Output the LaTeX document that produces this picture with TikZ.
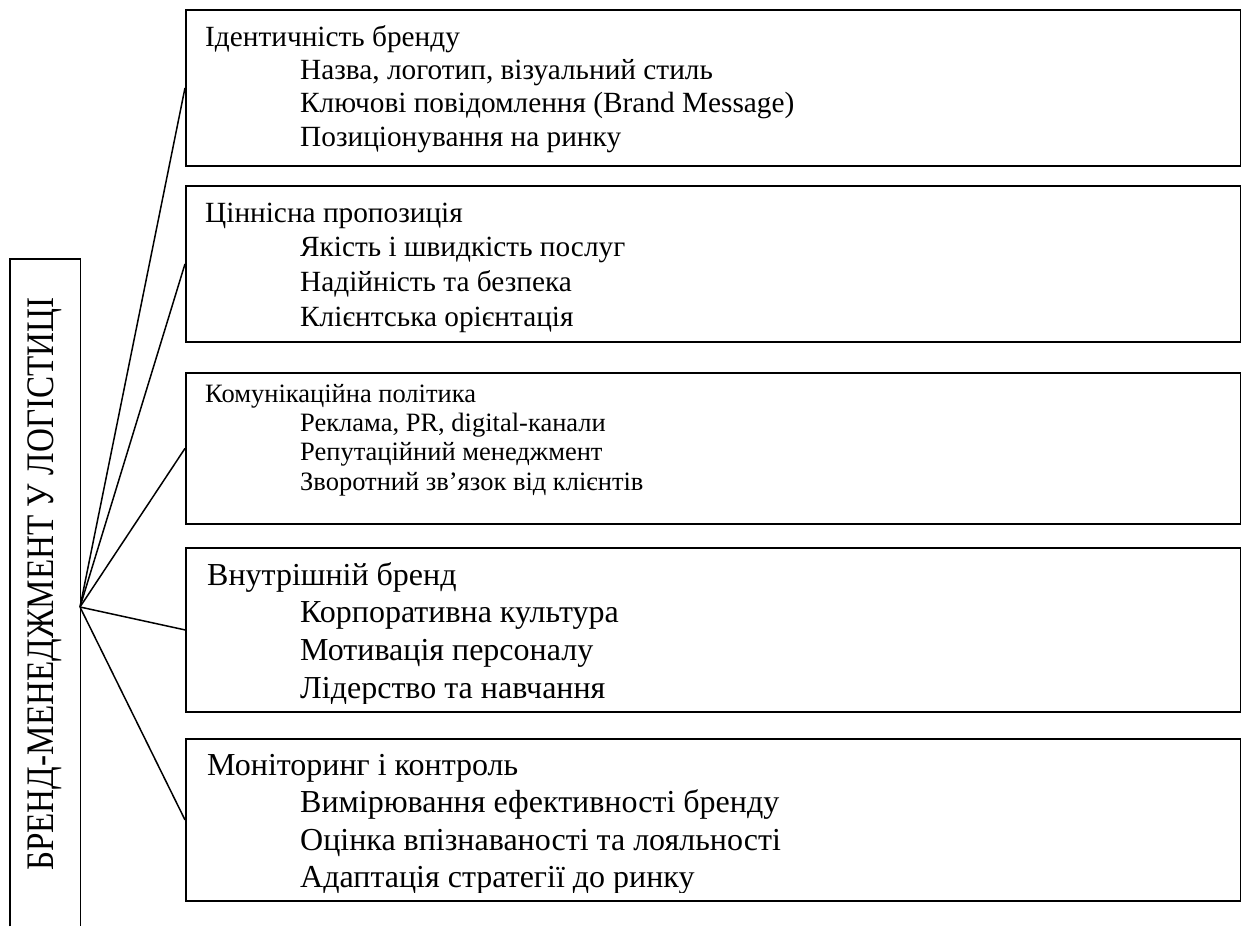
\documentclass[tikz,border=0pt]{standalone}
\usepackage{fontspec}
\setmainfont{Liberation Serif}
\newfontfamily\condfont[FakeStretch=0.85]{Liberation Serif}
\begin{document}
\begin{tikzpicture}[x=1pt,y=-1pt,
  box/.style={draw, line width=1.8pt, minimum width=1055pt, anchor=north west, inner sep=0pt},
  link/.style={line width=1.5pt},
  fa/.style={anchor=base west, inner sep=0pt, font=\fontsize{29.3}{33}\selectfont},
  fb/.style={anchor=base west, inner sep=0pt, font=\fontsize{26.5}{29}\selectfont},
  fc/.style={anchor=base west, inner sep=0pt, font=\fontsize{32}{37}\selectfont}]
\useasboundingbox (0,0) rectangle (1241,926);
% main vertical box (open at bottom)
\node[minimum width=70pt, minimum height=667pt, anchor=north west, inner sep=0pt] (main) at (10,259) {};
\draw[line width=1.8pt] (main.south west) |- (main.north east) -- (main.south east);
\node[rotate=90, inner sep=0pt, font=\fontsize{39}{44}\condfont] (mt) at (45,584) {БРЕНД-МЕНЕДЖМЕНТ У ЛОГІСТИЦІ};
\coordinate (hub) at (80,607);
% boxes
\node[box, minimum height=156pt] (b1) at (185,9) {};
\node[box, minimum height=156pt] (b2) at (185,185) {};
\node[box, minimum height=151pt] (b3) at (185,372) {};
\node[box, minimum height=164pt] (b4) at (185,547) {};
\node[box, minimum height=162pt] (b5) at (185,738) {};
% connectors
\foreach \b in {b1,b2,b3,b4,b5} \draw[link] (hub) -- (\b.west);
% box 1
\node[fa] (b1t) at (205,46) {Ідентичність бренду};
\node[fa] (b1a) at (300,79) {Назва, логотип, візуальний стиль};
\node[fa] (b1b) at (300,112) {Ключові повідомлення (Brand Message)};
\node[fa] (b1c) at (300,146) {Позиціонування на ринку};
% box 2
\node[fa] (b2t) at (205,222) {Ціннісна пропозиція};
\node[fa] (b2a) at (300,256) {Якість і швидкість послуг};
\node[fa] (b2b) at (300,291) {Надійність та безпека};
\node[fa] (b2c) at (300,326) {Клієнтська орієнтація};
% box 3
\node[fb] (b3t) at (205,402) {Комунікаційна політика};
\node[fb] (b3a) at (300,431) {Реклама, PR, digital-канали};
\node[fb] (b3b) at (300,460) {Репутаційний менеджмент};
\node[fb] (b3c) at (300,490) {Зворотний зв’язок від клієнтів};
% box 4 (last line cut by the frame)
\begin{scope}
\clip (b4.north west) rectangle ([yshift=9pt]b4.south east);
\node[fc] (b4t) at (207,585) {Внутрішній бренд};
\node[fc] (b4a) at (300,622) {Корпоративна культура};
\node[fc] (b4b) at (300,660) {Мотивація персоналу};
\node[fc] (b4c) at (300,698) {Лідерство та навчання};
\end{scope}
% box 5 (last line cut by the frame)
\begin{scope}
\clip (b5.north west) rectangle ([yshift=9pt]b5.south east);
\node[fc] (b5t) at (207,775) {Моніторинг і контроль};
\node[fc] (b5a) at (300,812) {Вимірювання ефективності бренду};
\node[fc] (b5b) at (300,850) {Оцінка впізнаваності та лояльності};
\node[fc] (b5c) at (300,887) {Адаптація стратегії до ринку};
\end{scope}
\end{tikzpicture}
\end{document}
